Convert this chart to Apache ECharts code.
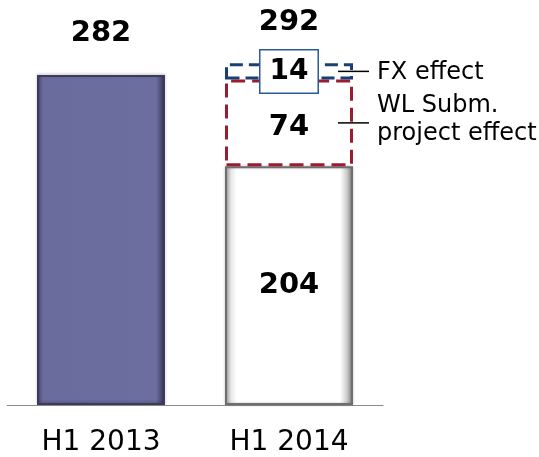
<!DOCTYPE html>
<html><head><meta charset="utf-8">
<script src="https://cdn.jsdelivr.net/npm/echarts@6/dist/echarts.min.js"></script>
<style>html,body{margin:0;padding:0;background:#fff}#c{width:539px;height:457px}</style>
</head><body><div id="c"></div>
<script>
const categories = ['H1 2013', 'H1 2014'];
const baseValues = [282, 204];
const wlValues = ['-', 74];
const fxValues = ['-', 14];
const totals = [282, 292];
const annotations = ['FX effect', 'WL Subm.\nproject effect'];

const FONT = '"DejaVu Sans", Verdana, sans-serif';
const BAR_W = 128;

const purpleFill = {type:'linear',x:0,y:0,x2:1,y2:0,colorStops:[
  {offset:0,color:'#4a4b75'},{offset:0.05,color:'#6b6c9e'},{offset:0.93,color:'#6d6ea0'},{offset:1,color:'#34354f'}]};
const whiteFill = {type:'linear',x:0,y:0,x2:1,y2:0,colorStops:[
  {offset:0,color:'#9a9a9a'},{offset:0.05,color:'#e8e8e8'},{offset:0.09,color:'#ffffff'},{offset:0.9,color:'#ffffff'},{offset:0.95,color:'#cfcfcf'},{offset:1,color:'#7a7a7a'}]};

const chart = echarts.init(document.getElementById('c'), null, {renderer:'canvas'});
chart.setOption({
  animation:false,
  grid:{left:7,right:156,top:7,bottom:52},
  xAxis:{type:'category',data:categories,
    axisLine:{lineStyle:{color:'#8c8c8c',width:1}},axisTick:{show:false},
    axisLabel:{fontFamily:FONT,fontSize:28,lineHeight:28,color:'#000',margin:24}},
  yAxis:{type:'value',min:0,max:340,show:false,splitLine:{show:false}},
  series:[
    {type:'bar',stack:'s',barWidth:BAR_W,z:3,
      data:baseValues.map((v,i)=>({value:v,
        itemStyle:i===0?{color:purpleFill,borderColor:'#3b3c5c',borderWidth:2,shadowColor:'rgba(0,0,0,0.25)',shadowBlur:3,shadowOffsetY:-1}
                       :{color:whiteFill,borderColor:'#6e6e6e',borderWidth:2,shadowColor:'rgba(0,0,0,0.2)',shadowBlur:3},
        label:{show:i===1}})),
      label:{position:'inside',fontFamily:FONT,fontSize:29,fontWeight:'bold',color:'#000'}},
    {type:'bar',stack:'s',barWidth:BAR_W,z:3,data:wlValues,
      itemStyle:{color:'rgba(255,255,255,0)',borderColor:'#9b1b30',borderWidth:3,borderType:[14,7]},
      label:{show:true,position:'inside',fontFamily:FONT,fontSize:29,fontWeight:'bold',color:'#000',offset:[0,5]}},
    {type:'bar',stack:'s',barWidth:BAR_W,z:3,data:fxValues,
      itemStyle:{color:'rgba(255,255,255,0)',borderColor:'#1c3f73',borderWidth:3,borderType:[13,6]},
      label:{show:true,position:'inside',fontFamily:FONT,fontSize:28,lineHeight:28,fontWeight:'bold',color:'#000',
        backgroundColor:'#fff',borderColor:'#2a5a96',borderWidth:1.5,padding:[7,9,7,9]}},
    {type:'scatter',data:totals,symbolSize:1,z:1,itemStyle:{color:'#ffffff',opacity:1},
      label:{show:true,position:'top',distance:26,fontFamily:FONT,fontSize:29,lineHeight:29,fontWeight:'bold',color:'#000000',opacity:1}}
  ]
});

const cx = chart.convertToPixel({xAxisIndex:0}, categories[1]);
const right = cx + BAR_W/2;
const yFx = chart.convertToPixel({yAxisIndex:0}, baseValues[1] + wlValues[1] + fxValues[1]/2);
const yWl = chart.convertToPixel({yAxisIndex:0}, baseValues[1] + wlValues[1]/2);
const mk = (y, text, ty) => [
  {type:'line',shape:{x1:right-15,y1:y,x2:right+16,y2:y},style:{stroke:'#000',lineWidth:1.5},z:100},
  {type:'text',x:right+24,y:ty,style:{text:text,fontFamily:FONT,fontSize:24,lineHeight:28,fill:'#000',verticalAlign:'middle',align:'left'},z:100}
];
chart.setOption({graphic:[...mk(yFx, annotations[0], yFx+1), ...mk(yWl, annotations[1], yWl-3)]});
</script></body></html>
